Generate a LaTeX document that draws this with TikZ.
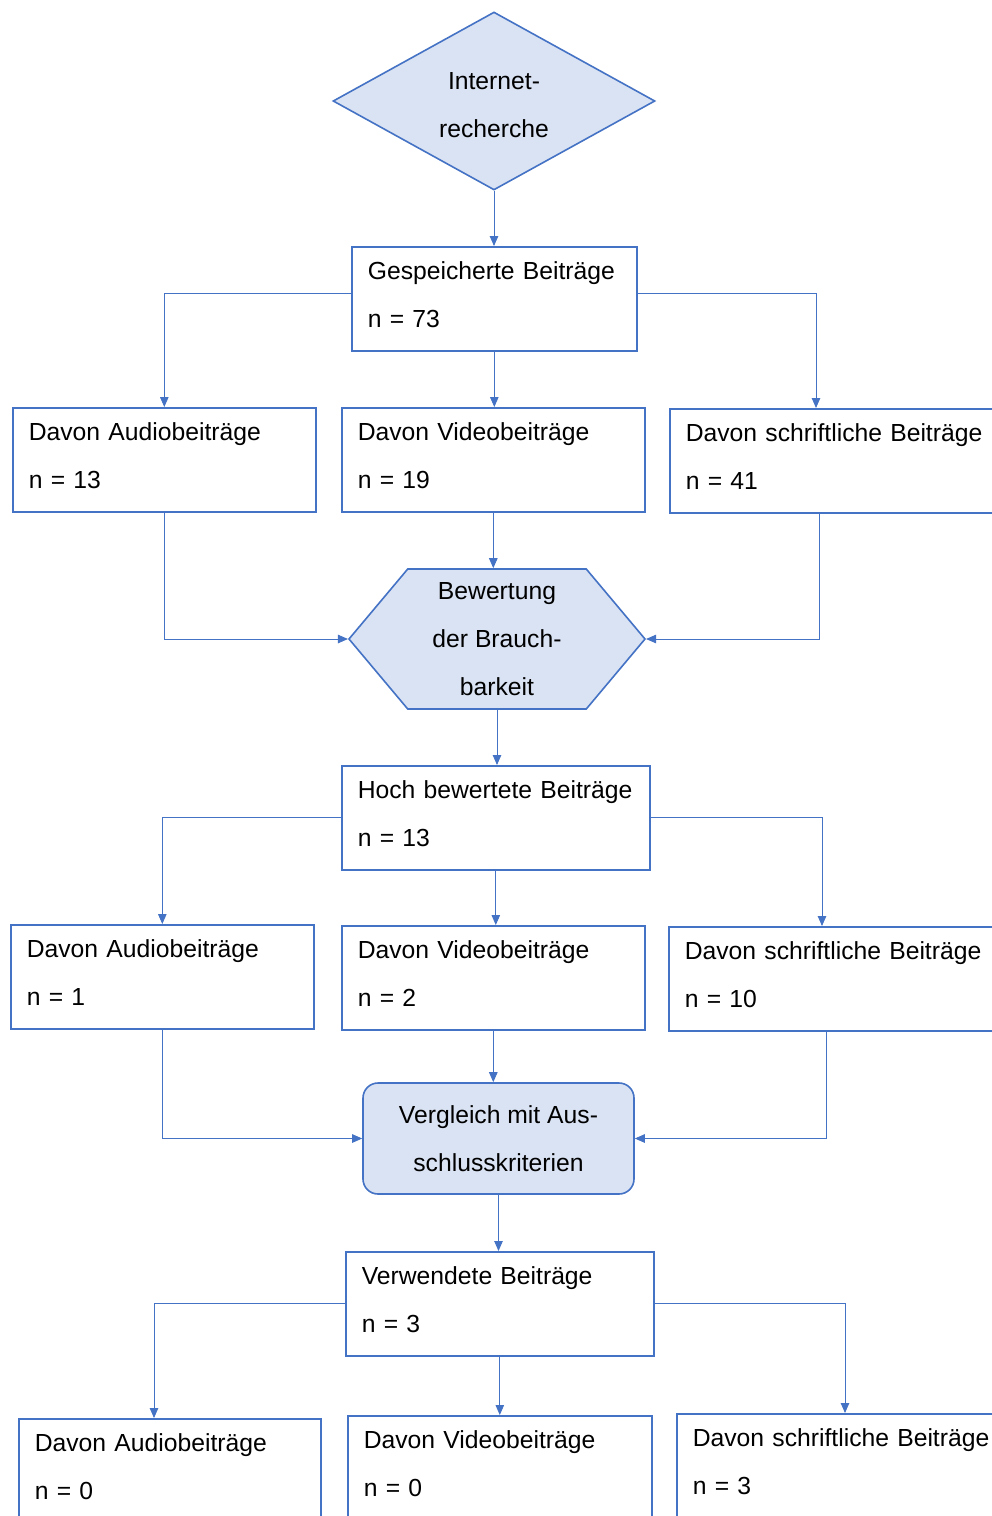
\documentclass[tikz,border=0pt]{standalone}
\usepackage{fontspec}
\setmainfont{Liberation Sans}
\usetikzlibrary{arrows.meta,shapes.geometric,shapes.symbols,calc}
\definecolor{rand}{HTML}{4472C4}
\definecolor{hell}{HTML}{DAE3F3}
\newcommand{\beitrag}[2]{\mbox{#1}\\n = #2\rule[-9pt]{0pt}{9pt}}

\begin{document}
\begin{tikzpicture}[
  x=1pt,y=-1pt,
  font=\fontsize{24.7}{48}\selectfont,
  box/.style={draw=rand,line width=1.6pt,anchor=north west,minimum height=104pt,inner xsep=16pt,inner ysep=0pt,align=left},
  start/.style={diamond,shape aspect=1.81,draw=rand,fill=hell,line width=1.6pt,minimum width=322pt,minimum height=178pt,inner sep=0pt,align=center},
  hexa/.style={signal,signal to=west and east,signal pointer angle=100,draw=rand,fill=hell,line width=1.6pt,minimum width=296pt,minimum height=140pt,inner sep=0pt,align=center},
  proc/.style={draw=rand,fill=hell,line width=1.6pt,rounded corners=15pt,minimum width=271pt,minimum height=111pt,inner sep=0pt,align=center},
  ar/.style={draw=rand,line width=0.9pt,-{Triangle[length=10pt,width=8.5pt]}}
]
\clip (0,0) rectangle (992,1516);
\node[start] (rech) at (494,101) {\rule{0pt}{26pt}Internet-\\recherche};
\node[box,text width=253pt] (ges) at (351,246) {\beitrag{Gespeicherte Beiträge}{73}};
\node[box,text width=271pt] (au1) at (12,407)  {\beitrag{Davon Audiobeiträge}{13}};
\node[box,text width=271pt] (vi1) at (341,407) {\beitrag{Davon Videobeiträge}{19}};
\node[box,text width=308pt] (sc1) at (669,408) {\beitrag{Davon schriftliche Beiträge}{41}};
\node[hexa] (bew) at (497,639) {Bewertung\\der Brauch-\\barkeit};
\node[box,text width=276pt] (hoch) at (341,765) {\beitrag{Hoch bewertete Beiträge}{13}};
\node[box,text width=271pt] (au2) at (10,924)  {\beitrag{Davon Audiobeiträge}{1}};
\node[box,text width=271pt] (vi2) at (341,925) {\beitrag{Davon Videobeiträge}{2}};
\node[box,text width=308pt] (sc2) at (668,926) {\beitrag{Davon schriftliche Beiträge}{10}};
\node[proc] (vgl) at (498.5,1138.5) {Vergleich mit Aus-\\schlusskriterien};
\node[box,text width=276pt] (verw) at (345,1251) {\beitrag{Verwendete Beiträge}{3}};
\node[box,text width=270pt,minimum height=105pt] (au3) at (18,1418)  {\beitrag{Davon Audiobeiträge}{0}};
\node[box,text width=272pt,minimum height=105pt] (vi3) at (347,1415) {\beitrag{Davon Videobeiträge}{0}};
\node[box,text width=308pt,minimum height=105pt] (sc3) at (676,1413) {\beitrag{Davon schriftliche Beiträge}{3}};
\draw[ar] (rech.south) -- (rech.south |- ges.north);
\draw[ar] ([yshift=5pt]ges.west) -| (au1.north);
\draw[ar] (ges.south) -- (ges.south |- vi1.north);
\draw[ar] ([yshift=5pt]ges.east) -| ([xshift=147pt]sc1.north west);
\draw[ar] (au1.south) |- (bew.west);
\draw[ar] (vi1.south) -- (vi1.south |- bew.north);
\draw[ar] ([xshift=150pt]sc1.south west) |- (bew.east);
\draw[ar] (bew.south) -- (bew.south |- hoch.north);
\draw[ar] (hoch.west) -| (au2.north);
\draw[ar] (hoch.south) -- (hoch.south |- vi2.north);
\draw[ar] (hoch.east) -| ([xshift=154pt]sc2.north west);
\draw[ar] (au2.south) |- (vgl.west);
\draw[ar] (vi2.south) -- (vi2.south |- vgl.north);
\draw[ar] ([xshift=158pt]sc2.south west) |- (vgl.east);
\draw[ar] (vgl.south) -- (vgl.south |- verw.north);
\draw[ar] (verw.west) -| ([xshift=136pt]au3.north west);
\draw[ar] (verw.south) -- (verw.south |- vi3.north);
\draw[ar] (verw.east) -| ([xshift=169pt]sc3.north west);
\end{tikzpicture}
\end{document}
